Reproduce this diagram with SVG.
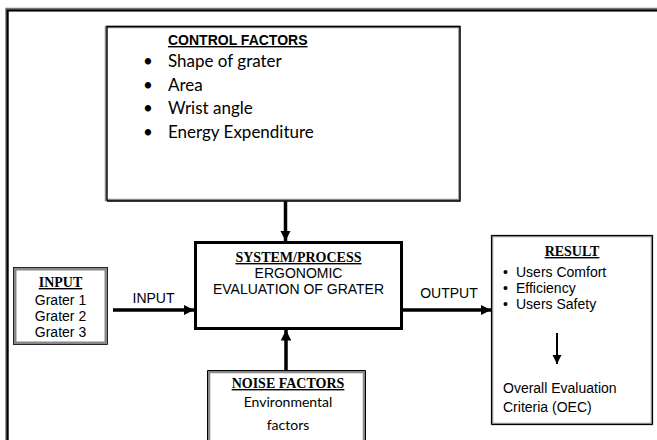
<svg xmlns="http://www.w3.org/2000/svg" width="657" height="440" viewBox="0 0 657 440">
<style>
.sans{font-family:"Liberation Sans",Arial,sans-serif;font-size:14px;fill:#000}
.ttl{font-family:"Liberation Serif","Times New Roman",serif;font-size:14px;font-weight:bold;text-decoration:underline;fill:#000}
.cal{font-family:Lato,"Open Sans",sans-serif;fill:#000}
.conn{stroke:#000;stroke-width:3.5;fill:none}
</style>
<defs>
<marker id="ah" viewBox="0 0 10 10" refX="10" refY="5" markerWidth="3" markerHeight="3.2" markerUnits="strokeWidth" orient="auto">
<path d="M0,0 L10,5 L0,10 Z" fill="#000"/>
</marker>
<marker id="ahs" viewBox="0 0 10 10" refX="10" refY="5" markerWidth="4.5" markerHeight="5" markerUnits="strokeWidth" orient="auto">
<path d="M0,0 L10,5 L0,10 Z" fill="#000"/>
</marker>
</defs>
<rect width="657" height="440" fill="#fff"/>
<path d="M7,440 V9.5 H657" fill="none" stroke="#777" stroke-width="3.5"/>
<path d="M7.5,440 V10.5 H657" fill="none" stroke="#000" stroke-width="2"/>

<g id="control">
<rect x="106" y="27" width="353.5" height="173" fill="#fff" stroke="#888" stroke-width="2.5"/>
<path d="M107,200.5 V26.5 H460 V201 H107" fill="none" stroke="#000" stroke-width="1.3"/>
<text class="sans" x="168" y="45" font-weight="bold" text-decoration="underline">CONTROL FACTORS</text>
<g class="cal" font-size="17">
<text x="143" y="67">•</text><text x="168" y="67">Shape of grater</text>
<text x="143" y="91">•</text><text x="168" y="91">Area</text>
<text x="143" y="114">•</text><text x="168" y="114">Wrist angle</text>
<text x="143" y="138">•</text><text x="168" y="138">Energy Expenditure</text>
</g>
</g>

<g id="system">
<rect x="195.5" y="242.5" width="206" height="86" fill="#fff" stroke="#000" stroke-width="3"/>
<text class="ttl" x="298.5" y="262" text-anchor="middle">SYSTEM/PROCESS</text>
<text class="sans" x="298.5" y="278" text-anchor="middle">ERGONOMIC</text>
<text class="sans" x="298.5" y="294" text-anchor="middle">EVALUATION OF GRATER</text>
</g>

<g id="input">
<rect x="15" y="269" width="91" height="74" fill="#fff" stroke="#888" stroke-width="3"/>
<rect x="13.5" y="267.5" width="94" height="77" fill="none" stroke="#000" stroke-width="0.8"/>
<text class="ttl" x="60.5" y="287" text-anchor="middle">INPUT</text>
<text class="sans" x="60.5" y="305" text-anchor="middle" font-size="13.5">Grater 1</text>
<text class="sans" x="60.5" y="321" text-anchor="middle" font-size="13.5">Grater 2</text>
<text class="sans" x="60.5" y="337" text-anchor="middle" font-size="13.5">Grater 3</text>
</g>

<g id="result">
<rect x="492" y="236" width="160" height="188" fill="#fff" stroke="#888" stroke-width="2.5"/>
<path d="M491.5,424 V235.5 H652.5 V424.5 H491.5" fill="none" stroke="#000" stroke-width="1"/>
<text class="ttl" x="572" y="256" text-anchor="middle">RESULT</text>
<text class="sans" x="503" y="277">•</text><text class="sans" x="516" y="277">Users Comfort</text>
<text class="sans" x="503" y="293">•</text><text class="sans" x="516" y="293">Efficiency</text>
<text class="sans" x="503" y="309">•</text><text class="sans" x="516" y="309">Users Safety</text>
<line x1="557" y1="333" x2="557" y2="364" stroke="#000" stroke-width="2" marker-end="url(#ahs)"/>
<text class="sans" x="503" y="393">Overall Evaluation</text>
<text class="sans" x="503" y="412">Criteria (OEC)</text>
</g>

<g id="noise">
<path d="M209,440 V372 H364 V440" fill="#fff" stroke="#888" stroke-width="2.5"/>
<path d="M207.5,440 V370.5 H365.5 V440" fill="none" stroke="#000" stroke-width="1"/>
<text class="ttl" x="288" y="388" text-anchor="middle">NOISE FACTORS</text>
<text class="cal" x="288" y="407" text-anchor="middle" font-size="14">Environmental</text>
<text class="cal" x="288" y="430" text-anchor="middle" font-size="14">factors</text>
</g>

<g id="connectors">
<line class="conn" x1="285.5" y1="201" x2="285.5" y2="241" marker-end="url(#ah)"/>
<line class="conn" x1="286" y1="371" x2="286" y2="330" marker-end="url(#ah)"/>
<line class="conn" x1="113" y1="310" x2="194" y2="310" marker-end="url(#ah)"/>
<line class="conn" x1="403" y1="310" x2="491" y2="310" marker-end="url(#ah)"/>
<text class="sans" x="153.5" y="303" text-anchor="middle" font-size="15.5">INPUT</text>
<text class="sans" x="449" y="298" text-anchor="middle" font-size="15.5">OUTPUT</text>
</g>
</svg>
